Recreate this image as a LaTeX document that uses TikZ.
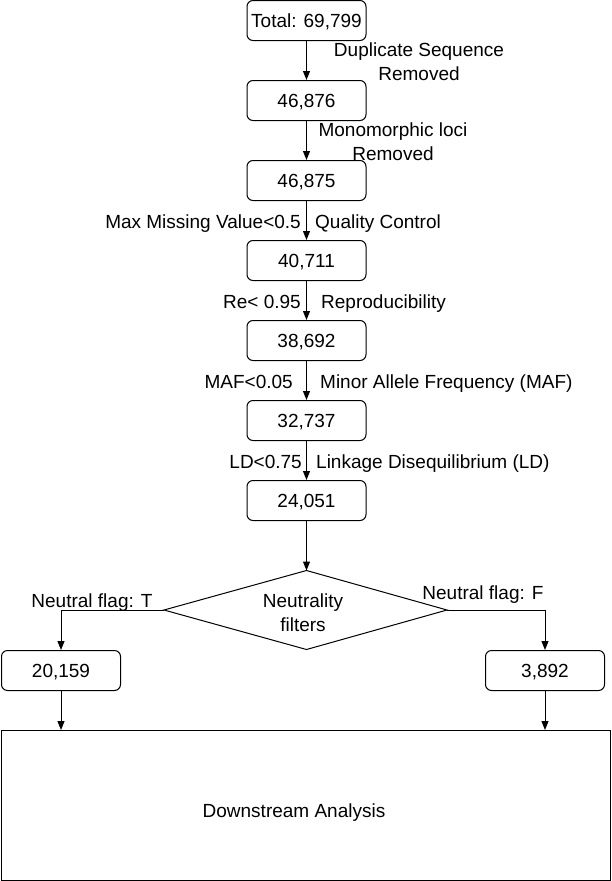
\documentclass[tikz,border=0pt]{standalone}
\usepackage{fontspec}
\setmainfont{Liberation Sans}
\usetikzlibrary{arrows.meta}
\begin{document}
\begin{tikzpicture}[x=1pt,y=-1pt,
  font=\fontsize{19}{24}\selectfont,
  stepbox/.style={draw,rounded corners=6pt,line width=1pt,minimum width=119pt,minimum height=40pt,inner sep=0pt,text height=13.6pt,text depth=0pt},
  lbl/.style={inner sep=0pt,align=center},
  arr/.style={line width=1pt,-{Triangle[width=7pt,length=9pt]}}]
\useasboundingbox (0,0) rectangle (611,881);
\node[stepbox] (b1) at (306.5,20.5) {Total: 69,799};
\node[stepbox] (b2) at (306.5,100.5) {46,876};
\node[stepbox] (b3) at (306.5,180.5) {46,875};
\node[stepbox] (b4) at (306.5,260.5) {40,711};
\node[stepbox] (b5) at (306.5,340.5) {38,692};
\node[stepbox] (b6) at (306.5,420.5) {32,737};
\node[stepbox] (b7) at (306.5,500.5) {24,051};
\coordinate (dn) at (306.5,570.5);
\coordinate (ds) at (306.5,649.5);
\coordinate (dw) at (164,610);
\coordinate (de) at (447,610);
\draw[line width=1pt] (dn) -- (de) -- (ds) -- (dw) -- cycle;
\node[lbl] (d) at (303,613) {Neutrality\\filters};
\node[stepbox] (bt) at (61,670.5) {20,159};
\node[stepbox] (bf) at (545,670.5) {3,892};
\node[draw,line width=1pt,minimum width=609pt,minimum height=150pt,inner sep=0pt] (big) at (305.5,805.5) {};
\node[lbl,anchor=base] (tbig) at (294,817) {Downstream Analysis};
\draw[arr] (b1) -- (b2);
\draw[arr] (b2) -- (b3);
\draw[arr] (b3) -- (b4);
\draw[arr] (b4) -- (b5);
\draw[arr] (b5) -- (b6);
\draw[arr] (b6) -- (b7);
\draw[arr] (b7) -- (dn);
\draw[arr] (dw) -| (bt.north);
\draw[arr] (de) -| (bf.north);
\draw[arr] (bt.south) -- (bt.south |- big.north);
\draw[arr] (bf.south) -- (bf.south |- big.north);
\node[lbl] (l1) at (419,62) {Duplicate Sequence\\Removed};
\node[lbl] (l2) at (393,142) {Monomorphic loci\\Removed};
\node[lbl,anchor=base east] (l3a) at (301,228) {Max Missing Value<0.5};
\node[lbl,anchor=base west] (l3b) at (315,228) {Quality Control};
\node[lbl,anchor=base east] (l4a) at (301,308) {Re< 0.95};
\node[lbl,anchor=base west] (l4b) at (321,308) {Reproducibility};
\node[lbl,anchor=base east] (l5a) at (293,388) {MAF<0.05};
\node[lbl,anchor=base west] (l5b) at (320,388) {Minor Allele Frequency (MAF)};
\node[lbl,anchor=base east] (l6a) at (302,468) {LD<0.75};
\node[lbl,anchor=base west] (l6b) at (316,468) {Linkage Disequilibrium (LD)};
\node[lbl,anchor=base] (lt) at (92,607) {Neutral flag: T};
\node[lbl,anchor=base] (lf) at (483,599) {Neutral flag: F};
\end{tikzpicture}
\end{document}
